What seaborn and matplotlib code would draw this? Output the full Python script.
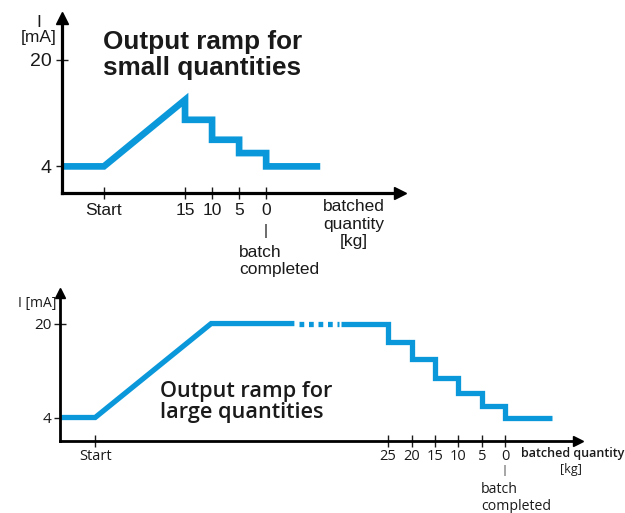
import numpy as np
import pandas as pd
import seaborn as sns
import matplotlib.pyplot as plt

sns.set_style("white")
plt.rcParams['font.family'] = ['Liberation Sans', 'DejaVu Sans']
plt.rcParams['text.color'] = "#1a1a1a"
plt.rcParams['xtick.color'] = "#1a1a1a"
plt.rcParams['ytick.color'] = "#1a1a1a"

BLUE = "#0a98da"

# small quantities: x in tick steps from the origin
small_x = [0, 1.55, 4.55, 4.55, 5.55, 5.55, 6.55, 6.55, 7.55, 7.55, 9.55]
small_y = [4, 4, 14, 11, 11, 8, 8, 6, 6, 4, 4]
small_ticks = [1.55, 4.55, 5.55, 6.55, 7.55]
small_labels = ["Start", "15", "10", "5", "0"]

# large quantities
large_x1 = [0, 1.5, 6.45, 10.0]
large_y1 = [4, 4, 20, 20]
large_gap_x = [10.2, 11.9]
large_gap_y = [20, 20]
large_x2 = [12.0, 14.0, 14.0, 15.0, 15.0, 16.0, 16.0, 17.0, 17.0, 18.0, 18.0, 19.0, 19.0, 21.0]
large_y2 = [20, 20, 16.8, 16.8, 14, 14, 10.8, 10.8, 8.1, 8.1, 6, 6, 4, 4]
large_ticks = [1.5, 14, 15, 16, 17, 18, 19]
large_labels = ["Start", "25", "20", "15", "10", "5", "0"]

W, H = 625, 513
fig = plt.figure(figsize=(W / 100, H / 100), dpi=100)


def box(x0, y0, x1, y1):
    return [x0 / W, 1 - y1 / H, (x1 - x0) / W, (y1 - y0) / H]


def px(x, y):
    return x / W, 1 - y / H


def draw(ax, xs, ys, lw):
    sns.lineplot(x=xs, y=ys, sort=False, estimator=None, color=BLUE, lw=lw, ax=ax)
    ax.lines[-1].set_solid_joinstyle("miter")
    ax.lines[-1].set_solid_capstyle("butt")
    return ax.lines[-1]


def style_axes(ax, lw, ms):
    sns.despine(ax=ax)
    for s in ["left", "bottom"]:
        ax.spines[s].set_linewidth(lw)
        ax.spines[s].set_color("black")
    ax.plot(1, 0, ">k", ms=ms, transform=ax.transAxes, clip_on=False)
    ax.plot(0, 1, "^k", ms=ms, transform=ax.transAxes, clip_on=False)
    ax.set_facecolor("none")


# ---- top panel ----
TOP = "Liberation Sans"
ax1 = fig.add_axes(box(62, 18, 400, 193))
draw(ax1, small_x, small_y, 4.8)
ax1.set_xlim(0, 12.5)
ax1.set_ylim(0, 26.3)
style_axes(ax1, 2.3, 8)
ax1.set_xticks(small_ticks, small_labels, fontsize=12.5, family=TOP)
ax1.set_yticks([4, 20], ["4", "20"], fontsize=14, family=TOP)
ax1.tick_params(bottom=True, left=True, direction="inout", length=9, width=1, pad=3)
fig.text(*px(39, 30), "I\n[mA]", ha="center", va="center", fontsize=12.5, linespacing=0.95,
         family=TOP)
fig.text(*px(103, 55), "Output ramp for\nsmall quantities", fontsize=18.8,
         fontweight="bold", va="center", linespacing=1.1, family=TOP)
fig.text(*px(266, 231), "|", ha="center", va="center", fontsize=11, family=TOP)
fig.text(*px(239, 261), "batch\ncompleted", ha="left", va="center", fontsize=12.5,
         linespacing=1.2, family=TOP)
fig.text(*px(354, 224), "batched\nquantity\n[kg]", ha="center", va="center", fontsize=12.5,
         linespacing=1.2, family=TOP)

# ---- bottom panel ----
BOT = "Open Sans"
ax2 = fig.add_axes(box(60, 293, 578, 441))
draw(ax2, large_x1, large_y1, 3.8)
gap = draw(ax2, large_gap_x, large_gap_y, 3.8)
gap.set_linestyle((0, (0.9, 0.9)))
draw(ax2, large_x2, large_y2, 3.8)
ax2.set_xlim(0, 22.1)
ax2.set_ylim(0, 25.2)
style_axes(ax2, 2.0, 7)
ax2.set_xticks(large_ticks, large_labels, fontsize=10.5, family=BOT)
ax2.set_yticks([4, 20], ["4", "20"], fontsize=11, family=BOT)
ax2.tick_params(bottom=True, left=True, direction="inout", length=8, width=1, pad=2)
fig.text(*px(56, 303), "I [mA]", ha="right", va="center", fontsize=10, family=BOT)
fig.text(*px(160, 402), "Output ramp for\nlarge quantities", fontsize=15.6,
         fontweight="semibold", family=BOT, va="center", linespacing=1.0)
fig.text(*px(504, 470), "|", ha="center", va="center", fontsize=8, family=BOT)
fig.text(*px(481, 498), "batch\ncompleted", ha="left", va="center", fontsize=10.2,
         family=BOT, linespacing=1.2)
fig.text(*px(624, 454), "batched quantity", ha="right", va="center", fontsize=9,
         fontweight="semibold", family=BOT)
fig.text(*px(582, 470), "[kg]", ha="right", va="center", fontsize=9, family=BOT)

fig.savefig("out.png", dpi=100)
